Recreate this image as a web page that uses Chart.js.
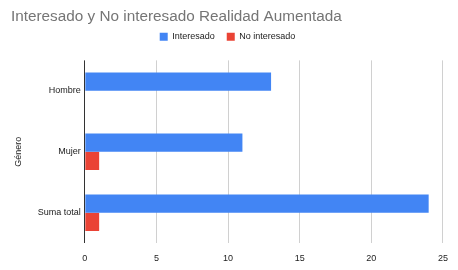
<!DOCTYPE html>
<html>
<head>
<meta charset="utf-8">
<script src="https://cdn.jsdelivr.net/npm/chart.js@4"></script>
<style>
  html, body { margin: 0; padding: 0; background: #fff; }
  #wrap { width: 458px; height: 270px; }
</style>
</head>
<body>
<div id="wrap"><canvas id="chart" width="458" height="270"></canvas></div>
<script>
// Data
const categories = ["Hombre", "Mujer", "Suma total"];
const interesado = [13, 11, 24];
const noInteresado = [0, 1, 1];
const xTicks = [0, 5, 10, 15, 20, 25];

const FONT = "Liberation Sans, Arial";

// give the legend a bit more room below it
const legendGap = {
  id: "legendGap",
  beforeInit(chart) {
    const fit = chart.legend.fit;
    chart.legend.fit = function () {
      fit.bind(this)();
      this.height += 9;
    };
  },
};

const ctx = document.getElementById("chart").getContext("2d");
new Chart(ctx, {
  type: "bar",
  data: {
    labels: categories,
    datasets: [
      {
        label: "Interesado",
        data: interesado,
        backgroundColor: "#4285F4",
        barPercentage: 1,
        categoryPercentage: 0.6,
      },
      {
        label: "No interesado",
        data: noInteresado,
        backgroundColor: "#EA4335",
        barPercentage: 1,
        categoryPercentage: 0.6,
      },
    ],
  },
  options: {
    indexAxis: "y",
    responsive: false,
    animation: false,
    layout: { padding: { left: 11, right: 14, top: 0, bottom: -4 } },
    plugins: {
      title: {
        display: true,
        text: "Interesado y No interesado Realidad Aumentada",
        align: "start",
        color: "#757575",
        font: { family: FONT, size: 15.3, weight: "normal" },
        padding: { top: 8, bottom: -6 },
      },
      legend: {
        display: true,
        labels: {
          boxWidth: 8,
          boxHeight: 8,
          color: "#222",
          font: { family: FONT, size: 9 },
          padding: 12,
        },
      },
      tooltip: { enabled: false },
    },
    scales: {
      x: {
        min: 0,
        max: 25,
        afterBuildTicks: (axis) => {
          axis.ticks = xTicks.map((v) => ({ value: v }));
        },
        grid: {
          color: (c) => (c.tick && c.tick.value === 0 ? "#333" : "#d0d0d0"),
          drawTicks: false,
        },
        border: { display: false },
        ticks: {
          color: "#222",
          font: { family: FONT, size: 9 },
          padding: 10,
        },
      },
      y: {
        grid: { display: false, drawTicks: false },
        border: { display: false },
        ticks: {
          color: "#222",
          font: { family: FONT, size: 9 },
          padding: 4,
        },
        title: {
          display: true,
          text: "Género",
          color: "#222",
          font: { family: FONT, size: 9 },
          padding: { top: 2, bottom: 10 },
        },
      },
    },
  },
  plugins: [legendGap],
});
</script>
</body>
</html>
